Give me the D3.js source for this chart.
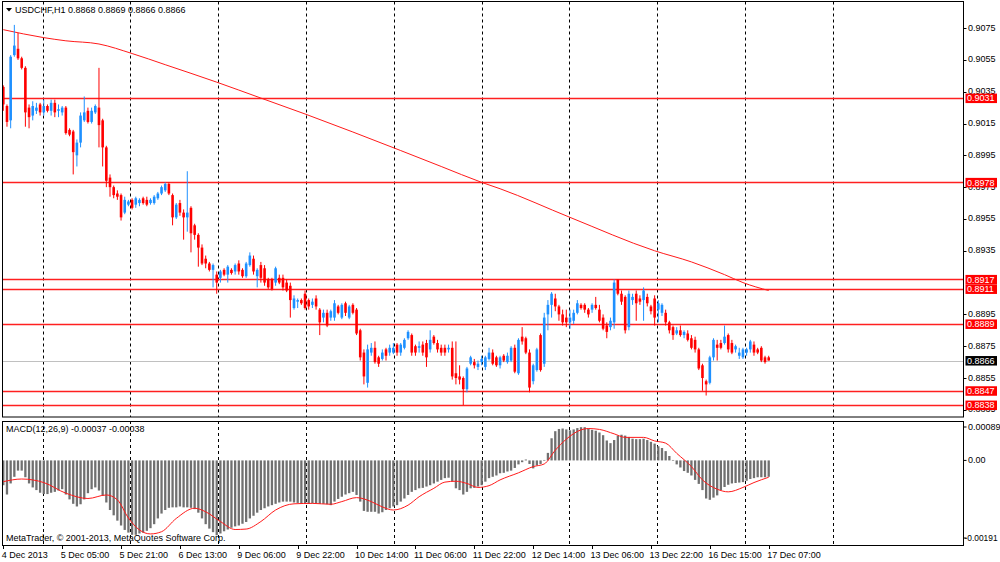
<!DOCTYPE html>
<html><head><meta charset="utf-8">
<script src="https://cdn.jsdelivr.net/npm/d3@7"></script>
<style>
html,body{margin:0;padding:0;background:#fff;}
svg{display:block;font-family:"Liberation Sans",Arial,sans-serif;}
</style></head><body>
<svg id="chart" width="1000" height="562"></svg>
<script>
// ---------------- DATA ----------------
const symbol = "USDCHF,H1";
const opens = [
.9038,.9026,.9017,.9058,.9062,.9056,.9050,.9025,.9020,.9023,
.9027,.9022,.9026,.9023,.9028,.9023,.9022,.9025,.9011,.9010,
.8995,.9003,.9017,.9023,.9016,.9022,.9025,.9017,.9000,.8981,
.8975,.8971,.8970,.8959,.8964,.8967,.8964,.8965,.8968,.8967,
.8965,.8965,.8968,.8971,.8973,.8977,.8970,.8956,.8965,.8959,
.8956,.8962,.8951,.8945,.8937,.8930,.8927,.8923,.8920,.8918,
.8923,.8920,.8923,.8922,.8927,.8923,.8919,.8926,.8930,.8919,
.8926,.8924,.8917,.8917,.8915,.8918,.8918,.8915,.8913,.8899,
.8903,.8904,.8908,.8904,.8901,.8905,.8898,.8893,.8896,.8893,
.8893,.8900,.8893,.8902,.8893,.8901,.8898,.8885,.8871,.8852,
.8871,.8874,.8868,.8867,.8873,.8871,.8871,.8876,.8871,.8874,
.8880,.8882,.8875,.8874,.8876,.8877,.8873,.8881,.8877,.8874,
.8874,.8873,.8874,.8858,.8856,.8855,.8848,.8864,.8865,.8862,
.8865,.8862,.8867,.8871,.8868,.8863,.8869,.8865,.8866,.8874,
.8858,.8881,.8880,.8871,.8853,.8860,.8882,.8864,.8895,.8901,
.8905,.8900,.8895,.8893,.8890,.8891,.8896,.8901,.8901,.8898,
.8898,.8901,.8898,.8893,.8888,.8887,.8890,.8917,.8908,.8906,
.8887,.8904,.8908,.8905,.8904,.8906,.8900,.8905,.8898,.8896,
.8896,.8890,.8887,.8883,.8885,.8882,.8883,.8880,.8879,.8873,
.8863,.8853,.8852,.8868,.8876,.8877,.8877,.8882,.8877,.8873,
.8869,.8868,.8871,.8873,.8876,.8873,.8874,.8868,.8868];
const highs = [
.9039,.9027,.9058,.9077,.9072,.9057,.9051,.9027,.9029,.9028,
.9028,.9030,.9027,.9030,.9030,.9027,.9026,.9026,.9012,.9011,
.9005,.9022,.9032,.9025,.9025,.9027,.9050,.9018,.9001,.8983,
.8976,.8973,.8971,.8969,.8967,.8968,.8969,.8968,.8969,.8969,
.8968,.8970,.8972,.8976,.8978,.8978,.8971,.8965,.8967,.8961,
.8985,.8963,.8952,.8946,.8939,.8932,.8928,.8927,.8922,.8923,
.8924,.8926,.8924,.8927,.8929,.8924,.8928,.8934,.8932,.8924,
.8928,.8926,.8918,.8918,.8925,.8920,.8920,.8917,.8915,.8907,
.8905,.8905,.8910,.8905,.8905,.8907,.8899,.8898,.8898,.8898,
.8904,.8901,.8902,.8903,.8901,.8902,.8899,.8886,.8873,.8876,
.8877,.8878,.8869,.8873,.8874,.8876,.8877,.8877,.8877,.8880,
.8885,.8883,.8876,.8878,.8878,.8879,.8885,.8882,.8879,.8876,
.8876,.8876,.8878,.8878,.8863,.8856,.8862,.8869,.8867,.8866,
.8869,.8869,.8874,.8873,.8869,.8869,.8870,.8871,.8875,.8876,
.8880,.8887,.8881,.8873,.8864,.8874,.8883,.8896,.8904,.8909,
.8908,.8901,.8898,.8898,.8898,.8898,.8904,.8902,.8902,.8899,
.8902,.8906,.8901,.8895,.8890,.8893,.8917,.8917,.8910,.8907,
.8910,.8908,.8910,.8907,.8912,.8908,.8901,.8907,.8904,.8902,
.8898,.8891,.8888,.8887,.8888,.8885,.8885,.8882,.8881,.8874,
.8864,.8854,.8869,.8880,.8879,.8879,.8888,.8883,.8879,.8876,
.8874,.8874,.8874,.8879,.8878,.8874,.8875,.8869,.8869];
const lows = [
.9023,.9013,.9012,.9057,.9055,.9049,.9013,.9012,.9017,.9021,
.9020,.9020,.9022,.9020,.9019,.9019,.9020,.9008,.9007,.8983,
.8988,.9000,.9016,.9015,.9015,.9021,.9000,.8988,.8975,.8969,
.8968,.8967,.8954,.8958,.8963,.8961,.8962,.8963,.8964,.8963,
.8964,.8964,.8967,.8970,.8972,.8970,.8951,.8955,.8957,.8942,
.8947,.8934,.8942,.8925,.8926,.8924,.8922,.8912,.8908,.8915,
.8919,.8915,.8920,.8920,.8920,.8918,.8918,.8925,.8920,.8912,
.8915,.8913,.8911,.8910,.8913,.8914,.8910,.8909,.8893,.8898,
.8899,.8901,.8898,.8898,.8899,.8898,.8882,.8890,.8887,.8891,
.8891,.8895,.8892,.8894,.8892,.8895,.8882,.8866,.8851,.8849,
.8869,.8864,.8862,.8866,.8866,.8869,.8870,.8869,.8869,.8873,
.8879,.8869,.8869,.8871,.8869,.8862,.8871,.8876,.8871,.8869,
.8869,.8871,.8854,.8851,.8851,.8838,.8846,.8863,.8861,.8860,
.8863,.8860,.8866,.8863,.8862,.8861,.8865,.8864,.8865,.8858,
.8857,.8876,.8870,.8846,.8851,.8859,.8859,.8862,.8885,.8893,
.8897,.8891,.8888,.8887,.8886,.8889,.8895,.8898,.8896,.8893,
.8896,.8898,.8890,.8885,.8880,.8885,.8886,.8907,.8901,.8883,
.8885,.8901,.8891,.8901,.8891,.8900,.8895,.8888,.8890,.8894,
.8888,.8883,.8879,.8882,.8881,.8880,.8878,.8873,.8871,.8860,
.8847,.8844,.8851,.8866,.8866,.8873,.8876,.8871,.8870,.8871,
.8867,.8867,.8869,.8871,.8869,.8870,.8865,.8864,.8866];
const closes = [
.9027,.9016,.9057,.9064,.9056,.9050,.9022,.9019,.9026,.9025,
.9022,.9026,.9023,.9028,.9022,.9024,.9025,.9009,.9008,.8997,
.9003,.9020,.9022,.9016,.9023,.9026,.9014,.9000,.8979,.8975,
.8970,.8969,.8956,.8967,.8966,.8962,.8968,.8967,.8965,.8964,
.8967,.8969,.8971,.8975,.8977,.8971,.8956,.8964,.8959,.8956,
.8959,.8946,.8945,.8937,.8927,.8927,.8923,.8926,.8915,.8922,
.8920,.8925,.8921,.8926,.8922,.8919,.8927,.8932,.8922,.8923,
.8918,.8915,.8912,.8911,.8924,.8915,.8912,.8910,.8904,.8905,
.8904,.8902,.8899,.8900,.8903,.8900,.8890,.8896,.8888,.8897,
.8902,.8896,.8901,.8896,.8900,.8896,.8883,.8868,.8856,.8873,
.8874,.8865,.8864,.8871,.8869,.8874,.8874,.8871,.8876,.8879,
.8884,.8871,.8871,.8875,.8871,.8868,.8879,.8877,.8873,.8871,
.8871,.8874,.8856,.8855,.8854,.8848,.8861,.8868,.8863,.8864,
.8867,.8868,.8871,.8864,.8863,.8868,.8866,.8869,.8874,.8859,
.8879,.8878,.8871,.8849,.8863,.8873,.8860,.8893,.8901,.8908,
.8900,.8895,.8890,.8890,.8893,.8896,.8902,.8899,.8898,.8895,
.8901,.8899,.8891,.8886,.8884,.8891,.8915,.8908,.8903,.8885,
.8908,.8906,.8902,.8903,.8910,.8902,.8897,.8893,.8902,.8901,
.8890,.8885,.8882,.8885,.8882,.8884,.8879,.8874,.8873,.8861,
.8855,.8851,.8868,.8879,.8874,.8874,.8881,.8873,.8871,.8875,
.8871,.8873,.8873,.8878,.8871,.8871,.8866,.8865,.8866];
// moving average read at selected bars: [bar, price]
const maPoints = [[0,.9074],[11,.9069],[17,.9067],[26,.9065],[35,.9059],[44,.9052],[58,.9041],[70,.9031],[82,.9021],[108,.8998],[119,.8988],[130,.8978],[135,.8974],[154,.8956],[177,.8935],[187,.8928],[196,.8920],[201,.8915],[208,.8910]];
const macdMain = [
-0.00056,-0.00077,-0.00052,-0.00037,-0.00023,-0.00023,-0.00038,-0.00052,-0.00061,-0.00067,
-0.00073,-0.00076,-0.00076,-0.00073,-0.00071,-0.00068,-0.00065,-0.00077,-0.00088,-0.00098,
-0.00104,-0.00099,-0.00088,-0.00074,-0.00065,-0.00061,-0.00068,-0.00080,-0.00095,-0.00112,
-0.00124,-0.00136,-0.00147,-0.00157,-0.00163,-0.00168,-0.00168,-0.00165,-0.00163,-0.00159,
-0.00153,-0.00144,-0.00131,-0.00120,-0.00112,-0.00107,-0.00106,-0.00106,-0.00104,-0.00106,
-0.00106,-0.00107,-0.00110,-0.00118,-0.00131,-0.00144,-0.00154,-0.00162,-0.00169,-0.00165,
-0.00160,-0.00156,-0.00152,-0.00149,-0.00147,-0.00143,-0.00139,-0.00131,-0.00125,-0.00118,
-0.00112,-0.00108,-0.00104,-0.00101,-0.00098,-0.00095,-0.00093,-0.00093,-0.00093,-0.00095,
-0.00096,-0.00098,-0.00098,-0.00098,-0.00097,-0.00097,-0.00098,-0.00098,-0.00099,-0.00101,
-0.00093,-0.00087,-0.00082,-0.00077,-0.00074,-0.00071,-0.00078,-0.00093,-0.00114,-0.00116,
-0.00116,-0.00116,-0.00120,-0.00117,-0.00112,-0.00108,-0.00104,-0.00101,-0.00093,-0.00086,
-0.00078,-0.00071,-0.00067,-0.00063,-0.00062,-0.00059,-0.00056,-0.00052,-0.00048,-0.00044,
-0.00040,-0.00039,-0.00047,-0.00063,-0.00067,-0.00077,-0.00071,-0.00063,-0.00062,-0.00059,
-0.00056,-0.00048,-0.00040,-0.00037,-0.00034,-0.00029,-0.00028,-0.00025,-0.00023,-0.00017,
-0.00009,-0.00004,0.00002,-0.00008,-0.00018,-0.00011,-0.00008,0.00001,0.00017,0.00050,
0.00066,0.00071,0.00072,0.00070,0.00068,0.00070,0.00073,0.00075,0.00075,0.00072,
0.00069,0.00067,0.00063,0.00057,0.00045,0.00039,0.00046,0.00056,0.00058,0.00056,
0.00053,0.00049,0.00048,0.00048,0.00049,0.00046,0.00042,0.00038,0.00032,0.00028,
0.00021,0.00010,0.00001,-0.00009,-0.00016,-0.00024,-0.00028,-0.00034,-0.00044,-0.00053,
-0.00067,-0.00086,-0.00089,-0.00084,-0.00079,-0.00067,-0.00060,-0.00055,-0.00052,-0.00051,
-0.00050,-0.00049,-0.00046,-0.00042,-0.00040,-0.00038,-0.00038,-0.00038,-0.00037];
// signal line read at selected bars: [bar, value]
const macdSignal = [[0,-0.00048],[5,-0.00042],[11,-0.00050],[17,-0.00074],[23,-0.00086],[28,-0.00078],[31,-0.00089],[34,-0.00130],[37,-0.00157],[40,-0.00166],[43,-0.00161],[47,-0.00131],[52,-0.00108],[55,-0.00116],[59,-0.00138],[63,-0.00156],[66,-0.00155],[70,-0.00138],[74,-0.00112],[79,-0.00098],[84,-0.00097],[89,-0.00099],[92,-0.00093],[96,-0.00084],[100,-0.00093],[103,-0.00105],[106,-0.00112],[110,-0.00101],[113,-0.00082],[117,-0.00063],[120,-0.00049],[123,-0.00047],[126,-0.00052],[129,-0.00061],[132,-0.00057],[135,-0.00044],[140,-0.00028],[144,-0.00014],[147,-0.00008],[150,0.00023],[153,0.00048],[157,0.00069],[159,0.00072],[162,0.00070],[166,0.00060],[169,0.00052],[174,0.00052],[177,0.00044],[180,0.00039],[183,0.00016],[187,-0.00014],[190,-0.00044],[194,-0.00065],[197,-0.00071],[201,-0.00061],[204,-0.00050],[208,-0.00038]];
const levels = [0.9031, 0.8978, 0.8917, 0.8911, 0.8889, 0.8847, 0.8838];
const bidPrice = 0.8866;
const priceTicks = [0.9075,0.9055,0.9035,0.9015,0.8995,0.8975,0.8955,0.8935,0.8895,0.8875,0.8855,0.8835];
const macdTicks = [0.00089, 0, -0.00191];
const timeLabels = [[0,"4 Dec 2013"],[16,"5 Dec 05:00"],[32,"5 Dec 21:00"],[48,"6 Dec 13:00"],[64,"9 Dec 06:00"],[80,"9 Dec 22:00"],[96,"10 Dec 14:00"],[112,"11 Dec 06:00"],[128,"11 Dec 22:00"],[144,"12 Dec 14:00"],[160,"13 Dec 06:00"],[176,"13 Dec 22:00"],[192,"16 Dec 15:00"],[208,"17 Dec 07:00"]];
const copyright = "MetaTrader, \u00a9 2001-2013, MetaQuotes Software Corp.";

// ---------------- LAYOUT ----------------
const L = 2.5, R = 963.5;
const mainT = 1.5, mainB = 417;
const macdT = 421, macdB = 545;
const BULL = "#1e90ff", BEAR = "#ff0000";

const svg = d3.select("#chart");
const n = closes.length;
const x = d3.scaleLinear().domain([0, n - 1]).range([3.3, 768.7]);
const y = d3.scaleLinear().domain([0.88305, 0.90914]).range([mainB, 2]);
const ym = d3.scaleLinear().domain([-0.00191, 0.00089]).range([macdB, macdT]);

svg.append("rect").attr("width",1000).attr("height",562).attr("fill","#fff");

const defs = svg.append("defs");
defs.append("clipPath").attr("id","cm").append("rect").attr("x",L).attr("y",mainT).attr("width",R-L).attr("height",mainB-mainT);
defs.append("clipPath").attr("id","cd").append("rect").attr("x",L).attr("y",macdT).attr("width",R-L).attr("height",macdB-macdT);

const gMain = svg.append("g").attr("clip-path","url(#cm)");
const gMacd = svg.append("g").attr("clip-path","url(#cd)");

// vertical dashed grid
const gridX = d3.range(10).map(k => 42.5 + k * 87.8);
[[gMain, mainT, mainB],[gMacd, macdT, macdB]].forEach(([g, t, b]) => {
  g.selectAll(null).data(gridX).join("line")
    .attr("x1", d => Math.round(d) + 0.5).attr("x2", d => Math.round(d) + 0.5)
    .attr("y1", t).attr("y2", b)
    .attr("stroke", "#000").attr("stroke-width", 1).attr("stroke-dasharray", "3,3");
});

// bid line
gMain.append("line").attr("x1",L).attr("x2",R)
  .attr("y1", Math.round(y(bidPrice)) + 0.5).attr("y2", Math.round(y(bidPrice)) + 0.5)
  .attr("stroke","#c0c0c0").attr("stroke-width",1);

// horizontal level lines
gMain.selectAll(null).data(levels).join("line")
  .attr("x1",L).attr("x2",R)
  .attr("y1", d => Math.round(y(d)) + 0.5).attr("y2", d => Math.round(y(d)) + 0.5)
  .attr("stroke","#ff2020").attr("stroke-width",1.3);

// moving average
gMain.append("path").datum(maPoints)
  .attr("d", d3.line().x(d => x(d[0])).y(d => y(d[1])).curve(d3.curveMonotoneX))
  .attr("fill","none").attr("stroke","#ff1a1a").attr("stroke-width",1);

// candles
const bars = d3.range(n).map(i => ({i, o: opens[i], h: highs[i], l: lows[i], c: closes[i]}));
const cg = gMain.append("g");
cg.selectAll("line.wick").data(bars).join("line").attr("class","wick")
  .attr("x1", d => x(d.i)).attr("x2", d => x(d.i))
  .attr("y1", d => y(d.h)).attr("y2", d => y(d.l))
  .attr("stroke", d => d.c >= d.o ? BULL : BEAR).attr("stroke-width", 1);
cg.selectAll("rect.body").data(bars).join("rect").attr("class","body")
  .attr("x", d => x(d.i) - 1.3).attr("width", 2.6)
  .attr("y", d => y(Math.max(d.o, d.c)))
  .attr("height", d => Math.max(1, Math.abs(y(d.o) - y(d.c))))
  .attr("fill", d => d.c >= d.o ? BULL : BEAR);

// MACD histogram
gMacd.selectAll("rect.h").data(macdMain).join("rect").attr("class","h")
  .attr("x", (d, i) => x(i) - 1.15).attr("width", 2.3)
  .attr("y", d => ym(Math.max(0, d)))
  .attr("height", d => Math.max(0.6, Math.abs(ym(d) - ym(0))))
  .attr("fill", "#707070");

// signal line
gMacd.append("path").datum(macdSignal)
  .attr("d", d3.line().x(d => x(d[0])).y(d => ym(d[1])).curve(d3.curveMonotoneX))
  .attr("fill","none").attr("stroke","#ff1a1a").attr("stroke-width",1);

// frames
svg.append("rect").attr("x",L).attr("y",mainT).attr("width",R-L).attr("height",mainB-mainT)
  .attr("fill","none").attr("stroke","#000").attr("stroke-width",1);
svg.append("rect").attr("x",L).attr("y",macdT+0.5).attr("width",R-L).attr("height",macdB-macdT)
  .attr("fill","none").attr("stroke","#000").attr("stroke-width",1);

const FS = "9px";
// price axis
svg.selectAll("line.pt").data(priceTicks).join("line").attr("class","pt")
  .attr("x1",R).attr("x2",R+3).attr("y1",d=>Math.round(y(d))+0.5).attr("y2",d=>Math.round(y(d))+0.5)
  .attr("stroke","#000");
svg.selectAll("text.pt").data(priceTicks).join("text").attr("class","pt")
  .attr("x",968).attr("y",d=>y(d)+2.5).attr("font-size",FS).attr("fill","#000")
  .text(d=>d.toFixed(4));

// level labels
const lab = svg.selectAll("g.lv").data(levels.map(v=>({v, bg:"#ff0000"})).concat([{v:bidPrice, bg:"#000"}]))
  .join("g").attr("class","lv");
lab.append("rect").attr("x",965.5).attr("y",d=>y(d.v)-4.5).attr("width",31.5).attr("height",9.5).attr("fill",d=>d.bg);
lab.append("text").attr("x",967).attr("y",d=>y(d.v)+3.3).attr("font-size",FS).attr("fill","#fff").text(d=>d.v.toFixed(4));

// macd axis
const mty = (d, i) => i === 0 ? ym(d) + 6 : i === 2 ? ym(d) - 7 : ym(d);
svg.selectAll("line.mt").data(macdTicks).join("line").attr("class","mt")
  .attr("x1",R).attr("x2",R+3).attr("y1",mty).attr("y2",mty).attr("stroke","#000");
svg.selectAll("text.mt").data(macdTicks).join("text").attr("class","mt")
  .attr("x",(d,i)=> i===2 ? 964.5 : 968).attr("y",(d,i)=> mty(d,i) + 3)
  .attr("font-size",(d,i)=> i===2 ? "8.4px" : FS).attr("fill","#000")
  .text(d => d === 0 ? "0.00" : d.toFixed(5));

// time axis
svg.selectAll("line.tt").data(timeLabels).join("line").attr("class","tt")
  .attr("x1",d=>Math.round(x(d[0]))+0.5).attr("x2",d=>Math.round(x(d[0]))+0.5)
  .attr("y1",macdB+0.5).attr("y2",macdB+4).attr("stroke","#000");
svg.selectAll("text.tt").data(timeLabels).join("text").attr("class","tt")
  .attr("x",d=>x(d[0])-1.5).attr("y",558).attr("font-size",FS).attr("fill","#000")
  .text(d=>d[1]);

// header texts
const last = n - 1;
svg.append("path").attr("d","M6,8 L12,8 L9,11.5 Z").attr("fill","#000");
svg.append("text").attr("x",15).attr("y",13).attr("font-size",FS).attr("fill","#000")
  .text(`${symbol}  ${opens[last].toFixed(4)} ${highs[last].toFixed(4)} ${lows[last].toFixed(4)} ${closes[last].toFixed(4)}`);
svg.append("text").attr("x",6).attr("y",432).attr("font-size",FS).attr("fill","#000")
  .text(`MACD(12,26,9) ${macdMain[last].toFixed(5)} ${macdSignal[macdSignal.length-1][1].toFixed(5)}`);
svg.append("text").attr("x",6).attr("y",541).attr("font-size",FS).attr("fill","#000").text(copyright);
</script>
</body></html>
